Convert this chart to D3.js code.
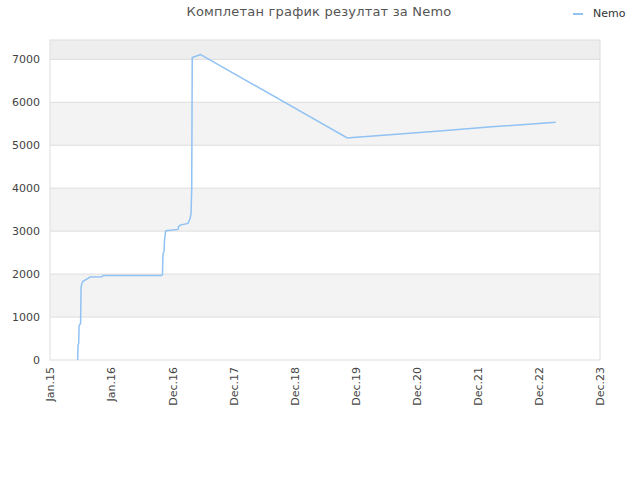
<!DOCTYPE html>
<html><head><meta charset="utf-8">
<script src="https://cdn.jsdelivr.net/npm/d3@7"></script>
<style>body{margin:0;background:#fff;} text{font-family:"DejaVu Sans",sans-serif;}</style>
</head><body>
<svg id="c" width="640" height="480"></svg>
<script>
const title = "Комплетан график резултат за Nemo";
const seriesName = "Nemo";
const tickLabels = ["Jan.15","Jan.16","Dec.16","Dec.17","Dec.18","Dec.19","Dec.20","Dec.21","Dec.22","Dec.23"];
const yTicks = [0,1000,2000,3000,4000,5000,6000,7000];
// dates of the score history
const dates = ["2015-06-14","2015-06-16","2015-06-20","2015-06-22","2015-07-01","2015-07-04","2015-07-09","2015-07-15","2015-08-14","2015-08-26","2015-11-05","2015-11-11","2016-10-23","2016-10-28","2016-10-31","2016-11-06","2016-11-09","2016-11-15","2016-11-18","2017-01-28","2017-01-31","2017-02-09","2017-03-28","2017-04-09","2017-04-15","2017-04-19","2017-04-22","2017-06-10","2017-06-24","2019-10-27","2019-11-30","2020-09-03","2021-06-01","2022-03-01","2023-03-14"];
const values = [0,350,380,800,850,1700,1780,1830,1900,1930,1940,1970,1970,2000,2480,2520,2800,2990,3010,3040,3100,3140,3180,3290,3410,4000,7040,7110,7080,5170,5180,5262,5345,5430,5535];

const svg = d3.select("#c");
const L=50,R=600,T=40,B=360;
const t0=new Date(2015,0,1), t1=new Date(2023,11,1);
const x=d3.scaleTime().domain([t0,t1]).range([L,R]);
const y=d3.scaleLinear().domain([0,7450]).range([B,T]);
const tickDates=tickLabels.map((d,i)=>new Date(+t0+(t1-t0)*i/(tickLabels.length-1)));

// bands
const bandEdges=yTicks.concat([7450]);
for(let i=0;i<bandEdges.length-1;i++){
  if(i%2===1){
    svg.append("rect").attr("x",L).attr("width",R-L)
      .attr("y",y(bandEdges[i+1])).attr("height",y(bandEdges[i])-y(bandEdges[i+1]))
      .attr("fill",i===7?"#eeeeee":"#f3f3f3");
  }
}
// grid
svg.append("g").selectAll("line").data(yTicks.slice(1)).join("line")
  .attr("x1",L).attr("x2",R).attr("y1",d=>y(d)).attr("y2",d=>y(d))
  .attr("stroke","#dddddd");
svg.append("rect").attr("x",L).attr("y",T).attr("width",R-L).attr("height",B-T)
  .attr("fill","none").attr("stroke","#dddddd");

// y axis labels
const ya=svg.append("g").attr("transform",`translate(${L},0)`)
  .call(d3.axisLeft(y).tickValues(yTicks).tickSize(0).tickPadding(10).tickFormat(d3.format("d")));
ya.select(".domain").remove();
ya.selectAll("text").attr("font-family","DejaVu Sans").attr("font-size",11).attr("fill","#444");

// x axis labels
const xa=svg.append("g").attr("transform",`translate(0,${B})`)
  .call(d3.axisBottom(x).tickValues(tickDates).tickSize(0).tickFormat((d,i)=>tickLabels[i]));
xa.select(".domain").remove();
xa.selectAll("text").attr("font-family","DejaVu Sans").attr("font-size",11).attr("fill","#444")
  .attr("text-anchor","end").attr("dy","0.35em")
  .attr("transform","translate(0,7) rotate(-90)").attr("x",0).attr("y",0);

// line
const parse=d3.timeParse("%Y-%m-%d");
const data=dates.map((d,i)=>({d:parse(d),v:values[i]}));
svg.append("path").datum(data)
  .attr("d",d3.line().x(d=>x(d.d)).y(d=>y(d.v)))
  .attr("fill","none").attr("stroke","#90c2f3").attr("stroke-width",1.5);

// title
svg.append("text").attr("x",319).attr("y",16).attr("text-anchor","middle")
  .attr("font-size",13).attr("letter-spacing","0.2px").attr("fill","#555").text(title);
// legend
svg.append("line").attr("x1",573).attr("x2",583).attr("y1",14).attr("y2",14)
  .attr("stroke","#90c2f3").attr("stroke-width",2);
svg.append("text").attr("x",593).attr("y",17).attr("font-size",11).attr("fill","#333").text(seriesName);
</script>
</body></html>
